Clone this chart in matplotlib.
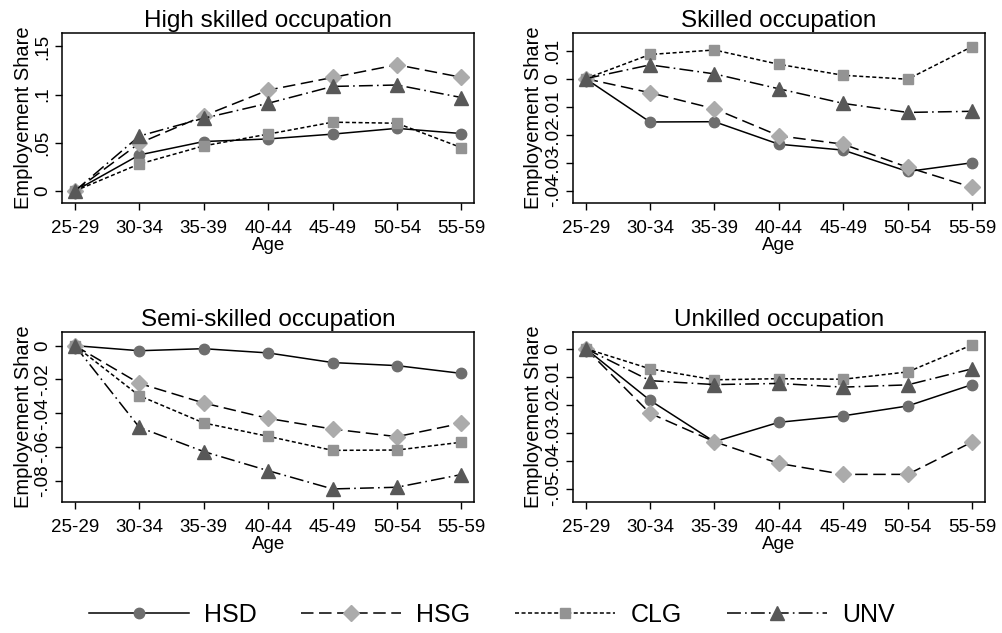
import numpy as np
import matplotlib
matplotlib.use("Agg")
import matplotlib.pyplot as plt
from matplotlib.ticker import FuncFormatter

plt.rcParams['font.family'] = ['Liberation Sans', 'DejaVu Sans']
plt.rcParams['lines.scale_dashes'] = False

ages = ['25-29', '30-34', '35-39', '40-44', '45-49', '50-54', '55-59']
groups = ['HSD', 'HSG', 'CLG', 'UNV']

# panel 1: high skilled
high_hsd = [0, 0.0374, 0.0513, 0.054, 0.059, 0.065, 0.0596]
high_hsg = [0, 0.0496, 0.078, 0.1047, 0.1178, 0.131, 0.118]
high_clg = [0, 0.028, 0.0468, 0.059, 0.0714, 0.0703, 0.045]
high_unv = [0, 0.057, 0.0755, 0.091, 0.1085, 0.110, 0.097]

# panel 2: skilled
sk_hsd = [0, -0.0154, -0.0153, -0.0233, -0.0254, -0.033, -0.0299]
sk_hsg = [0, -0.005, -0.0107, -0.0203, -0.0233, -0.0315, -0.0386]
sk_clg = [0, 0.0086, 0.0102, 0.0051, 0.0012, -0.0002, 0.0114]
sk_unv = [0, 0.0049, 0.0017, -0.0036, -0.0088, -0.012, -0.0116]

# panel 3: semi-skilled
semi_hsd = [0, -0.003, -0.0018, -0.0043, -0.010, -0.0118, -0.0164]
semi_hsg = [0, -0.0223, -0.0339, -0.043, -0.0493, -0.0538, -0.0459]
semi_clg = [0, -0.0296, -0.0457, -0.0536, -0.0619, -0.0617, -0.0571]
semi_unv = [0, -0.0483, -0.0626, -0.0739, -0.0847, -0.0837, -0.0762]

# panel 4: unskilled
un_hsd = [0, -0.0184, -0.0331, -0.0262, -0.0239, -0.0204, -0.0128]
un_hsg = [0, -0.023, -0.0331, -0.0408, -0.0447, -0.0447, -0.0332]
un_clg = [0, -0.0072, -0.0111, -0.0107, -0.0109, -0.0083, 0.0013]
un_unv = [0, -0.0114, -0.0128, -0.0124, -0.0137, -0.0129, -0.0072]

panels = [
    ('High skilled occupation', [high_hsd, high_hsg, high_clg, high_unv],
     [0, 0.05, 0.1, 0.15], (-0.0125, 0.164)),
    ('Skilled occupation', [sk_hsd, sk_hsg, sk_clg, sk_unv],
     [-0.04, -0.03, -0.02, -0.01, 0, 0.01], (-0.0442, 0.01624)),
    ('Semi-skilled occupation', [semi_hsd, semi_hsg, semi_clg, semi_unv],
     [-0.08, -0.06, -0.04, -0.02, 0], (-0.0924, 0.0081)),
    ('Unkilled occupation', [un_hsd, un_hsg, un_clg, un_unv],
     [-0.05, -0.04, -0.03, -0.02, -0.01, 0], (-0.0545, 0.0059)),
]

styles = [
    dict(marker='o', color='black', mfc='#6e6e6e', mec='#6e6e6e', ms=7.5, ls='-'),
    dict(marker='D', color='black', mfc='#ababab', mec='#ababab', ms=8, ls=(0, (9, 4))),
    dict(marker='s', color='black', mfc='#939393', mec='#939393', ms=7.2, ls=(0, (2.9, 1.8))),
    dict(marker='^', color='black', mfc='#585858', mec='#585858', ms=9.5, ls=(0, (10, 3, 1.2, 3))),
]


def stata_fmt(v, pos):
    if abs(v) < 1e-9:
        return '0'
    s = ('%g' % round(v, 4))
    return s.replace('0.', '.')


fig = plt.figure(figsize=(10.02, 6.33), dpi=100)
boxes = [(0.0619, 0.6793), (0.5716, 0.6793), (0.0619, 0.2070), (0.5716, 0.2070)]
w, h = 0.4114, 0.2686

x = np.arange(len(ages))
handles = []
for (title, series, yticks, ylim), (l, b) in zip(panels, boxes):
    ax = fig.add_axes([l, b, w, h])
    handles = []
    for vals, st in zip(series, styles):
        ln, = ax.plot(x, vals, lw=1.1, **st)
        handles.append(ln)
    ax.set_xlim(-0.2, 6.2)
    ax.set_ylim(*ylim)
    ax.set_xticks(x)
    ax.set_xticklabels(ages)
    ax.set_yticks(yticks)
    ax.yaxis.set_major_formatter(FuncFormatter(stata_fmt))
    ax.tick_params(axis='both', direction='out', length=5, width=1, labelsize=13.5)
    ax.tick_params(axis='x', pad=7)
    ax.tick_params(axis='y', pad=3, labelrotation=90)
    for lab in ax.get_yticklabels():
        lab.set_va('center')
    ax.set_title(title, fontsize=17.5, pad=4)
    ax.set_xlabel('Age', fontsize=13.5, labelpad=0)
    ax.set_ylabel('Employement Share', fontsize=14.5, labelpad=1)
    for sp in ax.spines.values():
        sp.set_linewidth(1.1)

fig.legend(handles, groups, loc='center', bbox_to_anchor=(0.4905, 0.0284), ncol=4,
           frameon=False, fontsize=18, handlelength=4.0, handletextpad=0.6,
           columnspacing=1.8, numpoints=1)

fig.savefig('out.png', dpi=100)
